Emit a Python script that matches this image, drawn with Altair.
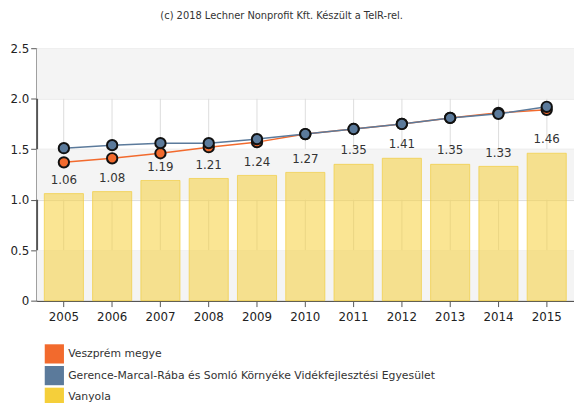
import altair as alt
import pandas as pd

years = [str(y) for y in range(2005, 2016)]
veszprem = [1.37, 1.41, 1.46, 1.52, 1.57, 1.65, 1.70, 1.75, 1.81, 1.86, 1.89]
gerence = [1.51, 1.54, 1.56, 1.56, 1.60, 1.65, 1.70, 1.75, 1.81, 1.85, 1.92]
vanyola = [1.06, 1.08, 1.19, 1.21, 1.24, 1.27, 1.35, 1.41, 1.35, 1.33, 1.46]

names = ["Veszprém megye",
         "Gerence-Marcal-Rába és Somló Környéke Vidékfejlesztési Egyesület",
         "Vanyola"]
colors = ["#f26a2d", "#5b7a9b", "#f5cf3a"]

band_lo = [0.0, 1.0, 2.0]
band_hi = [0.5, 1.5, 2.5]

rows = []
for i, y in enumerate(years):
    rows.append({"year": y, "series": names[0], "value": veszprem[i]})
    rows.append({"year": y, "series": names[1], "value": gerence[i]})
    rows.append({"year": y, "series": names[2], "value": vanyola[i]})
df = pd.DataFrame(rows)
bands = pd.DataFrame({"lo": band_lo, "hi": band_hi})

W, H = 545, 256

color = alt.Color("series:N",
                  scale=alt.Scale(domain=names, range=colors),
                  legend=alt.Legend(title=None, orient="none", legendX=8, legendY=300,
                                    symbolType="square", symbolSize=380,
                                    symbolStrokeWidth=0, symbolOpacity=1,
                                    labelFontSize=11, labelColor="#333",
                                    labelFont="DejaVu Sans", rowPadding=2,
                                    padding=0, labelLimit=500, labelOffset=4))

xenc = alt.X("year:N", title=None,
             scale=alt.Scale(paddingInner=0.19, paddingOuter=0.16),
             axis=alt.Axis(labelAngle=0, labelFontSize=12, labelColor="#222",
                           labelFont="DejaVu Sans", tickColor="#555", tickSize=6,
                           domain=True, domainColor="#555", domainWidth=1.5,
                           grid=True, gridColor="#dcdcdc",
                           bandPosition=0.5, labelPadding=5))
yscale = alt.Scale(domain=[0, 2.5], nice=False)

bg = alt.Chart(bands).mark_rect(color="#f4f4f4").encode(
    x=alt.value(0), x2=alt.value(W),
    y=alt.Y("lo:Q", scale=yscale), y2="hi:Q")

bars = alt.Chart(df).transform_filter(alt.datum.series == names[2]).mark_bar(
    fillOpacity=0.55, strokeOpacity=0.7, strokeWidth=1, stroke="#f0cc40"
).encode(
    x=xenc,
    y=alt.Y("value:Q", scale=yscale, title=None,
            axis=alt.Axis(values=[0, 0.5, 1.0, 1.5, 2.0, 2.5],
                          labelExpr="datum.value == 0 ? '0' : format(datum.value, '.1f')",
                          labelFontSize=12, labelColor="#222", labelFont="DejaVu Sans",
                          domainColor="#555", domainWidth=2, tickColor="#555",
                          tickSize=6, grid=True, gridColor="#dcdcdc")),
    color=color)

labels = alt.Chart(df).transform_filter(alt.datum.series == names[2]).mark_text(
    dy=-7, fontSize=12, color="#333", font="DejaVu Sans", baseline="bottom"
).encode(x="year:N", y=alt.Y("value:Q", scale=yscale),
         text=alt.Text("value:Q", format=".2f"))

lines_df = df[df.series != names[2]]
lines = alt.Chart(lines_df).mark_line(strokeWidth=1.5).encode(
    x="year:N", y=alt.Y("value:Q", scale=yscale), color=color,
    order=alt.Order("year:N"))
points = alt.Chart(lines_df).mark_point(
    filled=True, size=110, stroke="#111", strokeWidth=2, opacity=1
).encode(x="year:N", y=alt.Y("value:Q", scale=yscale),
         fill=alt.Fill("series:N", scale=alt.Scale(domain=names, range=colors), legend=None),
         color=alt.value("#111"))

chart = alt.layer(bg, bars, labels, lines, points).properties(
    width=W, height=H,
    title=alt.TitleParams("(c) 2018 Lechner Nonprofit Kft. Készült a TeIR-rel.",
                          fontSize=10, fontWeight="normal", color="#333",
                          font="DejaVu Sans", anchor="middle", dx=-24, offset=22),
    autosize=alt.AutoSizeParams(type="none"),
    padding={"left": 29, "top": 38, "right": 0, "bottom": 101}
).configure_view(stroke=None).configure(background="white")

chart.save("out.html", embed_options={"renderer": "svg", "actions": False})
